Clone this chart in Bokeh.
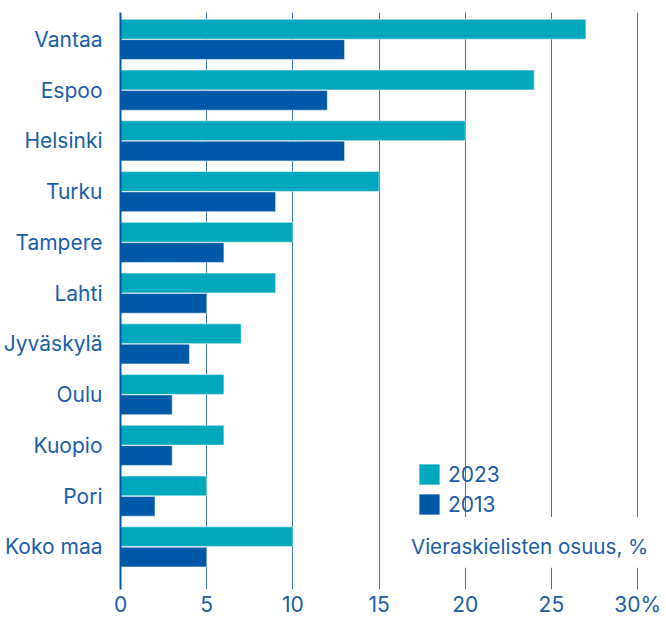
from bokeh.plotting import figure
from bokeh.models import Range1d, FixedTicker, Legend, LegendItem, Label, BoxAnnotation, ColumnDataSource
from bokeh.transform import dodge
from bokeh.embed import file_html
from bokeh.resources import INLINE

cities = ["Vantaa", "Espoo", "Helsinki", "Turku", "Tampere", "Lahti",
          "Jyväskylä", "Oulu", "Kuopio", "Pori", "Koko maa"]
share_2023 = [27, 24, 20, 15, 10, 9, 7, 6, 6, 5, 10]
share_2013 = [13, 12, 13, 9, 6, 5, 4, 3, 3, 2, 5]
x_ticks = [0, 5, 10, 15, 20, 25, 30]
x_tick_labels = ["0", "5", "10", "15", "20", "25", "30%"]

n = len(cities)
ypos = [n - 1 - i for i in range(n)]

FONT = "Inter"
TXT = "#1a5ea8"
C23 = "#00a8bd"
C13 = "#0058a8"
GRID = "#3a74b4"
FS = "21px"

src = ColumnDataSource(dict(y=ypos, city=cities, v23=share_2023, v13=share_2013))

p = figure(width=666, height=619, output_backend="svg", toolbar_location=None,
           x_range=Range1d(0, 31.33), y_range=Range1d(-0.84, n - 1 + 0.53),
           min_border_left=119, min_border_right=6, min_border_top=12, min_border_bottom=0)
p.outline_line_color = None
p.background_fill_color = "white"

r23 = p.hbar(y=dodge("y", 0.2, range=p.y_range), right="v23", left=0, height=0.39,
             source=src, fill_color=C23, line_color="white", line_alpha=0.5, line_width=1)
r13 = p.hbar(y=dodge("y", -0.2, range=p.y_range), right="v13", left=0, height=0.39,
             source=src, fill_color=C13, line_color="white", line_alpha=0.5, line_width=1)

# axes
p.xaxis.ticker = FixedTicker(ticks=x_ticks)
p.xaxis.major_label_overrides = {t: l for t, l in zip(x_ticks, x_tick_labels)}
p.xaxis.axis_line_color = None
p.xaxis.major_tick_line_color = None
p.xaxis.minor_tick_line_color = None
p.xaxis.major_label_text_font = FONT
p.xaxis.major_label_text_font_size = FS
p.xaxis.major_label_text_color = TXT
p.xaxis.major_label_standoff = -4

p.yaxis.ticker = FixedTicker(ticks=ypos)
p.yaxis.major_label_overrides = {y: c for y, c in zip(ypos, cities)}
p.yaxis.axis_line_color = C13
p.yaxis.axis_line_width = 2
p.yaxis.major_tick_line_color = None
p.yaxis.minor_tick_line_color = None
p.yaxis.major_label_text_font = FONT
p.yaxis.major_label_text_font_size = FS
p.yaxis.major_label_text_color = TXT
p.yaxis.major_label_standoff = 12

p.ygrid.grid_line_color = None
p.xgrid.ticker = FixedTicker(ticks=x_ticks[1:])
p.xgrid.grid_line_color = GRID
p.xgrid.grid_line_width = 1

# gap in gridlines behind the axis title
gap = BoxAnnotation(left=17.3, bottom=-0.41, top=0.59, fill_color="white", fill_alpha=1,
                    line_color=None, level="underlay")
p.add_layout(gap)

title = Label(x=16.85, y=0, text="Vieraskielisten osuus, %", text_font=FONT,
              text_font_size="20.6px", text_color=TXT, text_baseline="middle")
p.add_layout(title)

legend = Legend(items=[LegendItem(label="2023", renderers=[r23]),
                       LegendItem(label="2013", renderers=[r13])],
                location=(296, 72), orientation="vertical",
                glyph_width=26, glyph_height=26, spacing=4, padding=0, margin=0,
                label_text_font=FONT, label_text_font_size=FS, label_text_color=TXT,
                label_standoff=6, border_line_color=None, background_fill_alpha=0)
p.add_layout(legend)

open("out.html", "w").write(file_html(p, INLINE))
